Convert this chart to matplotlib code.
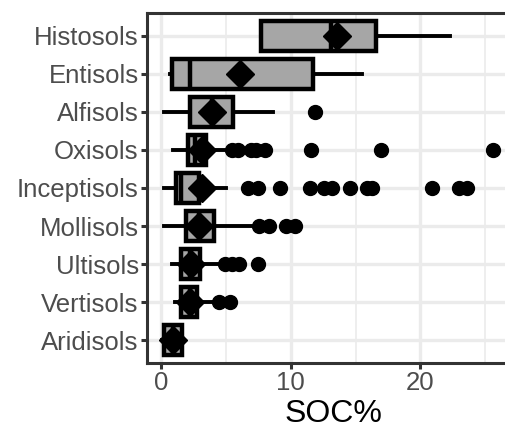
import numpy as np
import matplotlib.pyplot as plt

plt.rcParams['font.family'] = ['Liberation Sans', 'DejaVu Sans']

# -----------------------------
# data
# -----------------------------
orders = ["Histosols", "Entisols", "Alfisols", "Oxisols", "Inceptisols",
          "Mollisols", "Ultisols", "Vertisols", "Aridisols"]
q1 = [7.7, 0.85, 2.2, 2.05, 1.15, 1.9, 1.5, 1.55, 0.25]
med = [13.1, 2.25, 3.9, 2.6, 1.5, 2.9, 2.2, 2.2, 0.9]
q3 = [16.6, 11.7, 5.55, 3.45, 2.9, 4.1, 3.0, 2.8, 1.6]
wlo = [7.7, 0.7, 0.25, 0.9, 0.25, 0.25, 0.85, 1.1, 0.1]
whi = [22.3, 15.5, 8.6, 5.1, 5.0, 7.1, 4.55, 3.9, 1.8]
means = [13.6, 6.1, 3.9, 3.15, 3.15, 2.9, 2.3, 2.2, 0.9]
outliers = [
    [],
    [],
    [11.85],
    [5.5, 5.9, 6.9, 7.3, 8.0, 11.55, 17.0, 25.6],
    [6.7, 7.45, 9.2, 11.45, 12.6, 13.2, 14.6, 15.9, 16.3, 20.9, 23.0, 23.6],
    [7.55, 8.3, 9.6, 10.3],
    [4.95, 5.5, 6.0, 7.45],
    [4.5, 5.35],
    [],
]

# -----------------------------
# plot
# -----------------------------
fig = plt.figure(figsize=(5.05, 4.38), dpi=100)
ax = fig.add_axes([147 / 505, 1 - 363 / 438, 1.03 - 147 / 505, 350 / 438])

ypos = np.arange(len(orders))[::-1] + 1
stats = []
for i, name in enumerate(orders):
    stats.append(dict(label=name, q1=q1[i], med=med[i], q3=q3[i],
                      whislo=wlo[i], whishi=whi[i], mean=means[i],
                      fliers=outliers[i]))

ax.bxp(stats, positions=ypos, vert=False, widths=0.8, patch_artist=True,
       showmeans=True, showcaps=False,
       boxprops=dict(facecolor="#A6A6A6", edgecolor="black", linewidth=3.2),
       medianprops=dict(color="black", linewidth=3.2),
       whiskerprops=dict(color="black", linewidth=2.8),
       meanprops=dict(marker="D", markerfacecolor="black",
                      markeredgecolor="black", markersize=14),
       flierprops=dict(marker="o", markerfacecolor="black",
                       markeredgecolor="black", markersize=10))

ax.set_xlim(-1.09, 27.7)
ax.set_ylim(0.4, 9.6)
ax.set_xticks([0, 10, 20])
ax.set_xticks([5, 15, 25], minor=True)
ax.set_yticks(ypos)
ax.set_yticklabels(orders)

ax.grid(which="major", color="#EBEBEB", linewidth=2.4, zorder=0)
ax.grid(which="minor", axis="x", color="#EBEBEB", linewidth=1.2, zorder=0)
ax.set_axisbelow(True)
ax.tick_params(which="minor", length=0)
ax.tick_params(which="major", length=4, width=2.2, color="#333333",
               labelsize=18.5, labelcolor="#4D4D4D", pad=2)
for s in ax.spines.values():
    s.set_color("#333333")
    s.set_linewidth(2.2)
ax.spines["right"].set_visible(False)

ax.set_xlabel("SOC%", fontsize=23, color="black", labelpad=3)

fig.savefig("out.png", dpi=100)
